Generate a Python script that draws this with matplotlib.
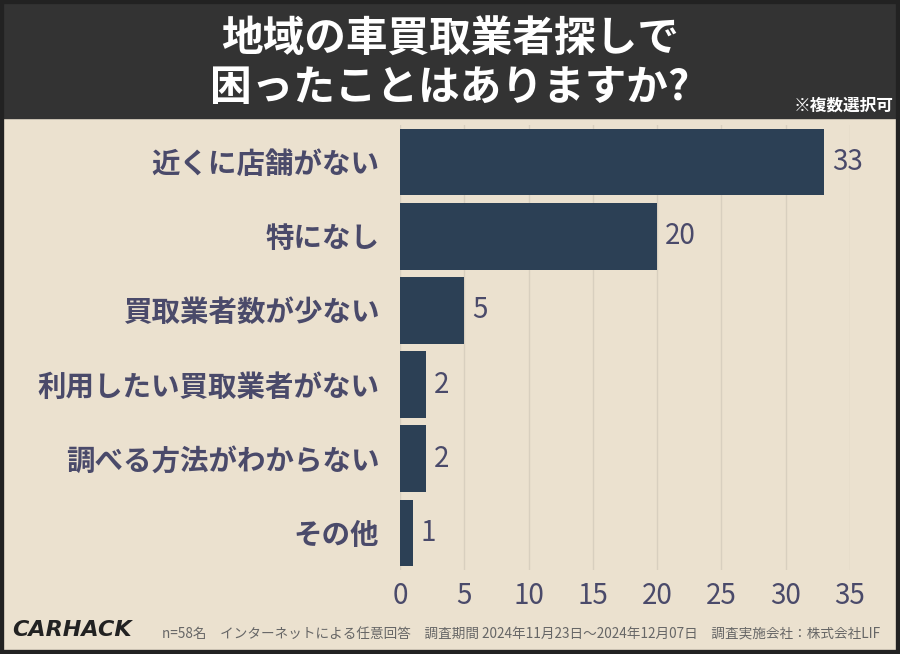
import matplotlib.pyplot as plt
from matplotlib.patches import Rectangle

categories = ["近くに店舗がない", "特になし", "買取業者数が少ない", "利用したい買取業者がない",
              "調べる方法がわからない", "その他"]
values = [33, 20, 5, 2, 2, 1]
xticks = [0, 5, 10, 15, 20, 25, 30, 35]

FONT = "Noto Sans CJK JP"
BG = "#ebe1cf"
BAR = "#2c4055"
TXT = "#4a4a6a"

fig = plt.figure(figsize=(9, 6.54), dpi=100, facecolor=BG)
W, H = 900, 654

# header band
fig.patches.append(Rectangle((0, 1 - 118 / H), 1, 118 / H, transform=fig.transFigure,
                             color="#333333", zorder=0))
fig.patches.append(Rectangle((0, 0), 1, 1, transform=fig.transFigure, fill=False,
                             edgecolor="#222222", linewidth=6, zorder=5))
fig.text(0.5, 1 - 40 / H, "地域の車買取業者探しで", ha="center", va="center",
         fontsize=30, color="white", fontweight="bold", family=FONT)
fig.text(0.5, 1 - 88 / H, "困ったことはありますか?", ha="center", va="center",
         fontsize=30, color="white", fontweight="bold", family=FONT)
fig.text(893 / W, 1 - 106 / H, "※複数選択可", ha="right", va="center",
         fontsize=12, color="white", fontweight="bold", family=FONT)

ax = fig.add_axes([400 / W, 1 - 570 / H, 450 / W, 445 / H])
ax.set_facecolor(BG)
y = list(range(len(categories)))
ax.barh(y, values, height=0.9, color=BAR, zorder=2)
for yi, v in zip(y, values):
    ax.text(v + 0.6, yi, str(v), va="center", ha="left", fontsize=20, color=TXT, family=FONT)
ax.set_ylim(len(categories) - 0.5, -0.5)
ax.set_xlim(0, 35)
ax.set_xticks(xticks)
ax.set_xticklabels([str(t) for t in xticks], fontsize=20, color=TXT, family=FONT)
ax.set_yticks(y)
ax.set_yticklabels(categories, fontsize=20.5, color=TXT, family=FONT, fontweight="bold")
ax.tick_params(axis="y", length=0, pad=15)
ax.tick_params(axis="x", length=0, pad=8)
ax.grid(axis="x", color="#d8cfbf", linewidth=1, zorder=0)
for s in ax.spines.values():
    s.set_visible(False)

fig.text(12 / W, 1 - 630 / H, "CARHACK", ha="left", va="center", fontsize=16,
         fontweight="bold", fontstyle="italic", color="#222222", family="DejaVu Sans")
fig.text(162 / W, 1 - 635 / H,
         "n=58名　インターネットによる任意回答　調査期間 2024年11月23日～2024年12月07日　調査実施会社：株式会社LIF",
         ha="left", va="center", fontsize=9.8, color="#666666", family=FONT)

fig.savefig("out.png", dpi=100, facecolor=BG)
